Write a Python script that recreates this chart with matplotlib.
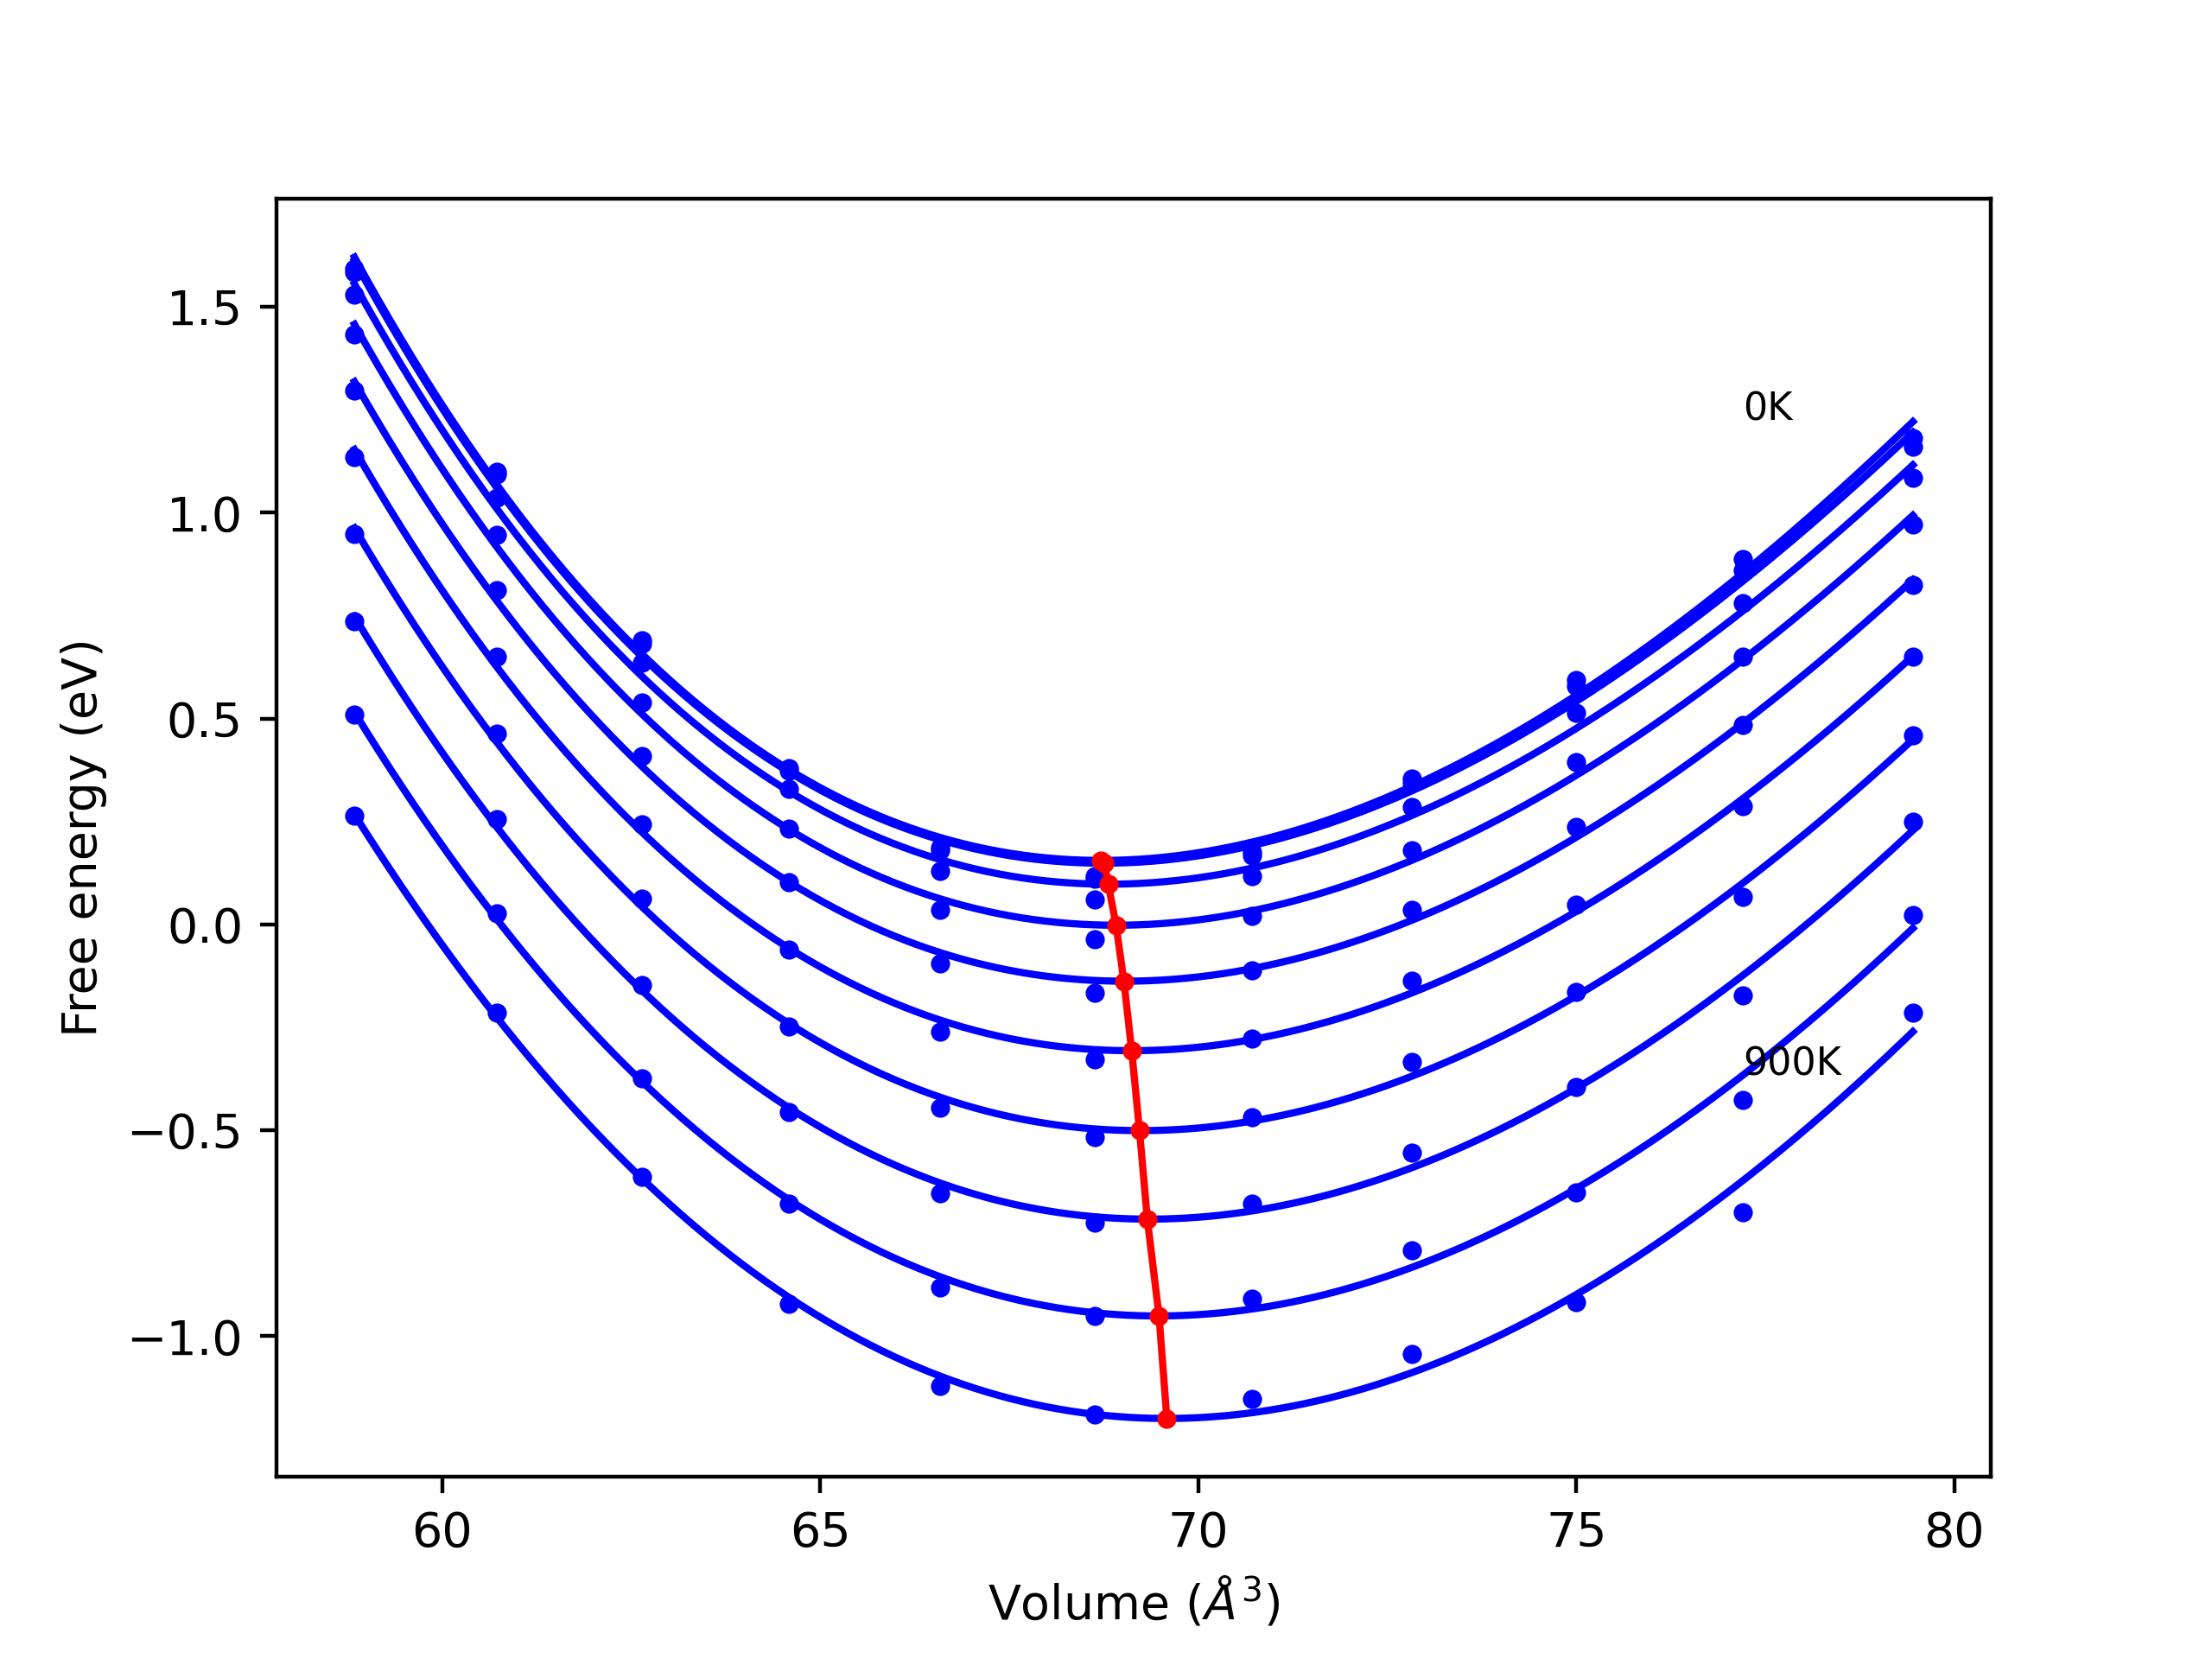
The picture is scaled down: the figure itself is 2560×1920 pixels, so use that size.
import numpy as np
import matplotlib
matplotlib.use("Agg")
import matplotlib.pyplot as plt

# volumes (A^3)
volumes = [58.84, 60.72, 62.64, 64.59, 66.59, 68.63, 70.71, 72.83, 75.00, 77.20, 79.45]

temperatures = [0, 100, 200, 300, 400, 500, 600, 700, 800, 900]

# free energies (eV), one list per temperature
f_0K = [1.592, 1.100, 0.690, 0.380, 0.186, 0.117, 0.176, 0.354, 0.594, 0.887, 1.182]
f_100K = [1.584, 1.093, 0.682, 0.374, 0.180, 0.112, 0.168, 0.345, 0.580, 0.860, 1.160]
f_200K = [1.530, 1.037, 0.635, 0.330, 0.129, 0.061, 0.118, 0.285, 0.514, 0.781, 1.085]
f_300K = [1.433, 0.946, 0.539, 0.233, 0.035, -0.035, 0.021, 0.180, 0.394, 0.650, 0.972]
f_400K = [1.297, 0.812, 0.410, 0.102, -0.095, -0.166, -0.112, 0.035, 0.238, 0.485, 0.824]
f_500K = [1.135, 0.651, 0.244, -0.060, -0.260, -0.328, -0.277, -0.137, 0.049, 0.288, 0.650]
f_600K = [0.948, 0.464, 0.062, -0.248, -0.446, -0.516, -0.469, -0.334, -0.163, 0.067, 0.459]
f_700K = [0.737, 0.255, -0.147, -0.455, -0.653, -0.724, -0.678, -0.555, -0.395, -0.172, 0.250]
f_800K = [0.509, 0.028, -0.374, -0.679, -0.881, -0.951, -0.909, -0.792, -0.651, -0.426, 0.023]
f_900K = [0.265, -0.214, -0.614, -0.921, -1.120, -1.191, -1.153, -1.044, -0.917, -0.699, -0.215]

free_energies = [f_0K, f_100K, f_200K, f_300K, f_400K,
                 f_500K, f_600K, f_700K, f_800K, f_900K]


def bm_fit(v, e):
    # 3rd order Birch-Murnaghan: cubic in V^(-2/3)
    x = np.asarray(v) ** (-2.0 / 3.0)
    return np.polyfit(x, np.asarray(e), 3)


def bm_eval(coef, v):
    return np.polyval(coef, np.asarray(v) ** (-2.0 / 3.0))


fig = plt.figure(figsize=(6.4, 4.8), dpi=400)
ax = fig.add_subplot(111)

v_fine = np.linspace(volumes[0], volumes[-1], 400)
v_min = []
f_min = []
for e in free_energies:
    coef = bm_fit(volumes, e)
    f_fit = bm_eval(coef, v_fine)
    ax.plot(volumes, e, 'bo', ms=3)
    ax.plot(v_fine, f_fit, 'b-')
    i = np.argmin(f_fit)
    v_min.append(v_fine[i])
    f_min.append(f_fit[i])

ax.plot(v_min, f_min, 'ro-', ms=3)

ax.text(77.2, 1.224, '0K', fontsize=8)
ax.text(77.2, -0.366, '900K', fontsize=8)

ax.set_xlabel(r'Volume ($\AA^3$)')
ax.set_ylabel('Free energy (eV)')

fig.savefig('out.png', dpi=400)
